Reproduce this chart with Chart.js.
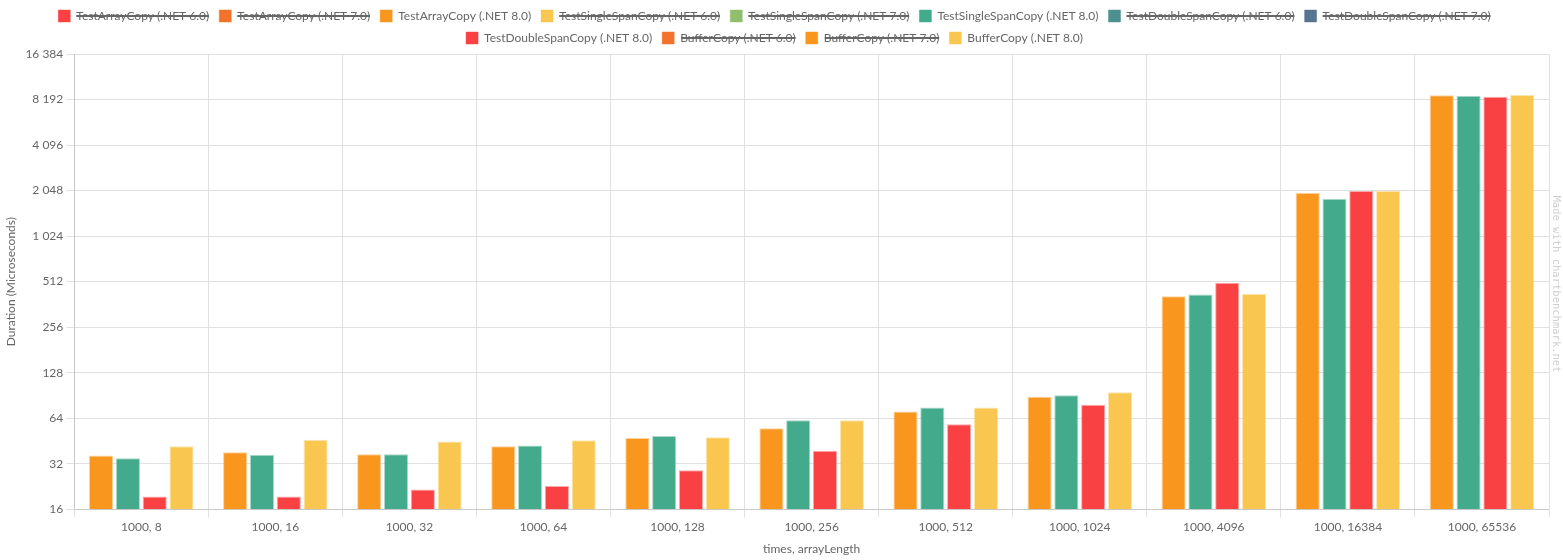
<!DOCTYPE html>
<html>
<head>
<meta charset="utf-8">
<script src="https://cdn.jsdelivr.net/npm/chart.js@4"></script>
<style>
  body { margin: 0; background: #fff; }
  #wrap { width: 1563px; height: 560px; }
</style>
</head>
<body>
<div id="wrap"><canvas id="my-chart"></canvas></div>
<script>

// categories on the x axis
let categories = ['1000, 8', '1000, 16', '1000, 32', '1000, 64', '1000, 128', '1000, 256',
    '1000, 512', '1000, 1024', '1000, 4096', '1000, 16384', '1000, 65536'];

// y ticks (powers of two)
let yTicks = [16, 32, 64, 128, 256, 512, 1024, 2048, 4096, 8192, 16384];

// visible series (microseconds)
let arrayCopy80 = [36.2, 38.1, 37.0, 41.8, 47.4, 54.9, 70.9, 88.5, 410, 1971, 8730];
let singleSpan80 = [34.8, 36.6, 36.9, 42.2, 48.7, 62.1, 75.3, 90.8, 421, 1808, 8690];
let doubleSpan80 = [19.4, 19.4, 21.6, 22.8, 29.0, 38.9, 58.4, 78.4, 503, 2033, 8550];
let bufferCopy80 = [41.8, 46.0, 44.9, 45.8, 47.9, 62.1, 75.3, 95.1, 425, 2040, 8775];

// series names, in legend order
let seriesNames = [
    'TestArrayCopy (.NET 6.0)', 'TestArrayCopy (.NET 7.0)', 'TestArrayCopy (.NET 8.0)',
    'TestSingleSpanCopy (.NET 6.0)', 'TestSingleSpanCopy (.NET 7.0)', 'TestSingleSpanCopy (.NET 8.0)',
    'TestDoubleSpanCopy (.NET 6.0)', 'TestDoubleSpanCopy (.NET 7.0)', 'TestDoubleSpanCopy (.NET 8.0)',
    'BufferCopy (.NET 6.0)', 'BufferCopy (.NET 7.0)', 'BufferCopy (.NET 8.0)'
];
// hidden ones have no visible values
let seriesData = [
    [], [], arrayCopy80,
    [], [], singleSpan80,
    [], [], doubleSpan80,
    [], [], bufferCopy80
];
let hiddenSeries = [true, true, false, true, true, false, true, true, false, true, true, false];

let palette = ['#f94144', '#f3722c', '#f8961e', '#f9c74f', '#90be6d', '#43aa8b', '#4d908e', '#577590'];

function withAlpha(hex, a) {
    let r = parseInt(hex.slice(1, 3), 16);
    let g = parseInt(hex.slice(3, 5), 16);
    let b = parseInt(hex.slice(5, 7), 16);
    return `rgba(${r}, ${g}, ${b}, ${a})`;
}

function spaced(v) {
    return String(v).replace(/\B(?=(\d{3})+(?!\d))/g, ' ');
}

let datasets = [];
for (let i = 0; i < seriesNames.length; i++) {
    let c = palette[i % palette.length];
    datasets.push({
        label: seriesNames[i],
        data: seriesData[i],
        hidden: hiddenSeries[i],
        backgroundColor: c,
        borderColor: withAlpha(c, 0.45),
        borderWidth: 1
    });
}

// vertical watermark at the right edge
let watermark = {
    id: 'watermark',
    afterDraw(chart) {
        let ctx = chart.ctx;
        ctx.save();
        ctx.translate(1556, 284);
        ctx.rotate(Math.PI / 2);
        ctx.font = '10.5px "DejaVu Sans Mono"';
        ctx.fillStyle = '#cfcfcf';
        ctx.textAlign = 'center';
        ctx.textBaseline = 'middle';
        ctx.fillText('Made with chartbenchmark.net', 0, 0);
        ctx.restore();
    }
};

Chart.defaults.font.family = 'Lato, "Open Sans", sans-serif';
Chart.defaults.font.size = 12;
Chart.defaults.color = '#666';

let ctx = document.getElementById('my-chart').getContext('2d');
let benchChart = new Chart(ctx, {
    type: 'bar',
    data: {
        labels: categories,
        datasets: datasets
    },
    options: {
        responsive: true,
        maintainAspectRatio: false,
        animation: false,
        layout: { padding: { right: 14, left: 0 } },
        plugins: {
            legend: {
                position: 'top',
                labels: { boxWidth: 12, boxHeight: 12, padding: 10 }
            },
            tooltip: { enabled: false }
        },
        scales: {
            x: {
                title: { display: true, text: 'times, arrayLength' },
                grid: { color: '#e0e0e0' }
            },
            y: {
                type: 'logarithmic',
                min: 16,
                max: 16384,
                title: { display: true, text: 'Duration (Microseconds)' },
                grid: { color: '#e0e0e0' },
                afterBuildTicks: function (scale) {
                    scale.ticks = yTicks.map(v => ({ value: v }));
                },
                ticks: {
                    callback: function (v) { return spaced(v); }
                }
            }
        }
    },
    plugins: [watermark]
});

</script>
</body>
</html>
